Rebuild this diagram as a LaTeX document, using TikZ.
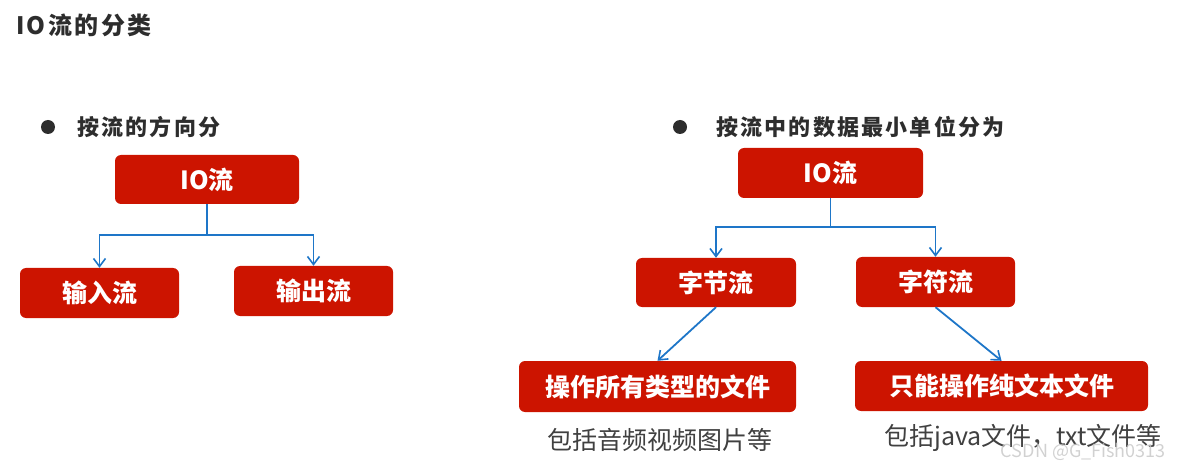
\documentclass[tikz,border=0pt]{standalone}
\usepackage{fontspec}
\usetikzlibrary{arrows.meta}
\newfontfamily\cjk{Noto Sans CJK SC}
\newfontfamily\cjkt[LetterSpace=10]{Noto Sans CJK SC}
\definecolor{boxred}{RGB}{204,20,0}
\definecolor{linkblue}{RGB}{30,118,200}
\definecolor{txtdark}{RGB}{45,45,45}
\definecolor{subgray}{RGB}{64,64,64}
\tikzset{
  redbox/.style={draw=none, fill=boxred, rounded corners=6pt, inner sep=0pt,
    text=white, font=\cjk\bfseries\fontsize{25}{29}\selectfont},
  conn/.style={draw=linkblue, line width=1.8pt, -{Straight Barb[length=8pt,width=12pt,line width=1.6pt]}},
  heading/.style={anchor=west, inner sep=0pt, text=txtdark, font=\cjkt\bfseries\fontsize{22}{26}\selectfont},
  bulletdot/.style={circle, fill=txtdark, inner sep=0pt, minimum size=14pt},
  subnote/.style={inner sep=0pt, text=subgray, font=\cjk\fontsize{25}{29}\selectfont},
}
\begin{document}
\begin{tikzpicture}[x=1pt,y=-1pt]
\useasboundingbox (0,0) rectangle (1180,470);
% title
\node[heading, font=\cjkt\bfseries\fontsize{24}{28}\selectfont] (title) at (16,25) {IO流的分类};
% left part
\node[bulletdot] (b1) at (48,127) {};
\node[heading] (h1) at (77,127) {按流的方向分};
\node[redbox, minimum width=184pt, minimum height=49pt] (lio) at (207,179.5) {IO流};
\node[redbox, minimum width=159pt, minimum height=50pt] (lin) at (99.5,293) {输入流};
\node[redbox, minimum width=159pt, minimum height=50pt] (lout) at (313.5,291) {输出流};
\coordinate (lj) at (207,235);
\draw[conn] (lio.south) -- (lj) -| (lin.north);
\draw[conn] (lj) -| (lout.north);
% right part
\node[bulletdot] (b2) at (680,127) {};
\node[heading] (h2) at (716,127) {按流中的数据最小单位分为};
\node[redbox, minimum width=185pt, minimum height=50pt] (rio) at (830.5,173) {IO流};
\node[redbox, minimum width=160pt, minimum height=49pt] (byte) at (716,282.5) {字节流};
\node[redbox, minimum width=159pt, minimum height=50pt] (char) at (935.5,282) {字符流};
\coordinate (rj) at (830.5,227);
\draw[conn] (rio.south) -- (rj) -| (byte.north);
\draw[conn] (rj) -| (char.north);
\node[redbox, minimum width=277pt, minimum height=51pt] (allf) at (657.5,386.5) {操作所有类型的文件};
\node[redbox, minimum width=293pt, minimum height=50pt] (txtf) at (1001.5,386) {只能操作纯文本文件};
\draw[conn] (byte.south) -- (allf.north);
\draw[conn] (char.south) -- (txtf.north);
\node[subnote] (n1) at (659.5,440) {包括音频视频图片等};
\node[subnote] (n2) at (1023,438) {包括java文件，txt文件等};
\node[anchor=east, inner sep=0pt, text=gray!45, opacity=0.8, font=\cjk\fontsize{18}{20}\selectfont] (wm) at (1166,452) {CSDN @G\_Fish0313};
\end{tikzpicture}
\end{document}
